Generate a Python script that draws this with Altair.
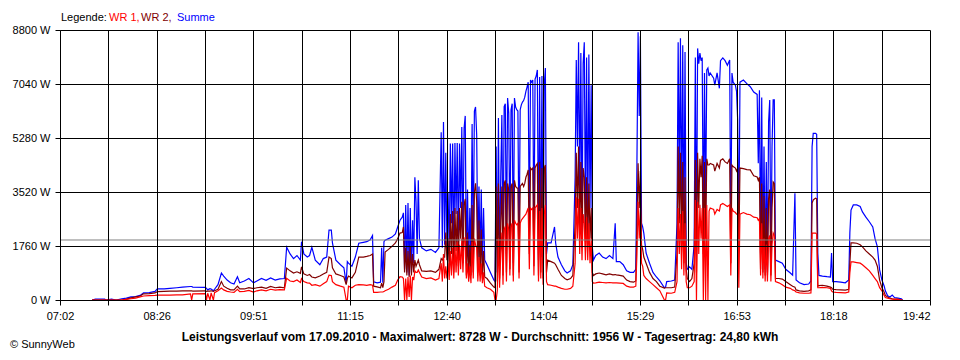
import altair as alt
import pandas as pd

# ---------------- data ----------------
times = [
    "07:30", "07:33", "07:41", "07:42", "07:47", "07:51", "07:56", "08:00", "08:04", "08:08",
    "08:12", "08:15", "08:20", "08:25", "08:27", "08:33", "08:38", "08:44", "08:49", "08:56",
    "08:57", "08:58", "09:09", "09:10", "09:11", "09:13", "09:14", "09:16", "09:17", "09:20",
    "09:23", "09:25", "09:28", "09:31", "09:34", "09:37", "09:39", "09:43", "09:47", "09:51",
    "09:54", "09:58", "10:02", "10:06", "10:10", "10:14", "10:18", "10:20", "10:23", "10:26",
    "10:29", "10:32", "10:33", "10:35", "10:38", "10:40", "10:42", "10:45", "10:49", "10:52",
    "10:55", "10:57", "10:59", "11:00", "11:03", "11:07", "11:10", "11:12", "11:13", "11:14",
    "11:17", "11:20", "11:23", "11:27", "11:30", "11:33", "11:35", "11:36", "11:39", "11:42",
    "11:43", "11:44", "11:45", "11:46", "11:49", "11:52", "11:55", "11:57", "11:59", "12:01",
    "12:02", "12:03", "12:04", "12:05", "12:06", "12:07", "12:08", "12:09", "12:10", "12:11",
    "12:12", "12:13", "12:14", "12:15", "12:16", "12:18", "12:22", "12:26", "12:30", "12:33",
    "12:35", "12:36", "12:37", "12:38", "12:39", "12:40", "12:41", "12:42", "12:43", "12:44",
    "12:45", "12:46", "12:47", "12:48", "12:49", "12:50", "12:51", "12:52", "12:53", "12:54",
    "12:55", "12:56", "12:57", "12:58", "12:59", "13:00", "13:01", "13:02", "13:03", "13:04",
    "13:05", "13:06", "13:07", "13:08", "13:09", "13:10", "13:11", "13:12", "13:13", "13:15",
    "13:18", "13:21", "13:22", "13:23", "13:24", "13:25", "13:26", "13:27", "13:28", "13:29",
    "13:30", "13:31", "13:32", "13:33", "13:34", "13:35", "13:36", "13:37", "13:38", "13:39",
    "13:40", "13:41", "13:42", "13:43", "13:44", "13:45", "13:46", "13:47", "13:48", "13:49",
    "13:50", "13:51", "13:52", "13:53", "13:54", "13:55", "13:56", "13:57", "13:58", "13:59",
    "14:00", "14:01", "14:02", "14:03", "14:04", "14:05", "14:06", "14:07", "14:08", "14:11",
    "14:14", "14:15", "14:17", "14:20", "14:23", "14:25", "14:28", "14:30", "14:32", "14:33",
    "14:34", "14:35", "14:36", "14:37", "14:38", "14:39", "14:40", "14:41", "14:42", "14:43",
    "14:44", "14:45", "14:46", "14:47", "14:48", "14:50", "14:53", "14:56", "14:59", "15:02",
    "15:05", "15:07", "15:08", "15:11", "15:14", "15:17", "15:20", "15:23", "15:25", "15:26",
    "15:27", "15:28", "15:29", "15:30", "15:31", "15:32", "15:34", "15:37", "15:40", "15:43",
    "15:46", "15:50", "15:51", "15:52", "15:56", "15:59", "16:01", "16:02", "16:03", "16:04",
    "16:05", "16:06", "16:07", "16:08", "16:09", "16:10", "16:12", "16:14", "16:16", "16:17",
    "16:18", "16:19", "16:20", "16:21", "16:22", "16:23", "16:24", "16:25", "16:26", "16:27",
    "16:28", "16:29", "16:30", "16:33", "16:34", "16:36", "16:38", "16:39", "16:41", "16:43",
    "16:45", "16:47", "16:48", "16:49", "16:50", "16:52", "16:53", "16:54", "16:55", "16:56",
    "16:59", "17:02", "17:05", "17:08", "17:11", "17:12", "17:13", "17:14", "17:15", "17:16",
    "17:17", "17:18", "17:19", "17:20", "17:21", "17:22", "17:23", "17:24", "17:25", "17:26",
    "17:27", "17:30", "17:33", "17:36", "17:40", "17:42", "17:44", "17:45", "17:48", "17:52",
    "17:56", "17:58", "17:59", "18:00", "18:02", "18:03", "18:04", "18:05", "18:08", "18:12",
    "18:15", "18:16", "18:17", "18:20", "18:24", "18:28", "18:31", "18:32", "18:33", "18:35",
    "18:38", "18:41", "18:43", "18:46", "18:49", "18:52", "18:54", "18:56", "18:58", "19:00",
    "19:02", "19:03", "19:05", "19:07", "19:09", "19:11", "19:14", "19:17", "19:18",
]

wr1 = [
    0, 0, 0, 0, 0, 0, 0, 20, 40, 60,
    100, 130, 140, 150, 160, 160, 160, 170, 170, 200,
    0, 200, 210, 0, 220, 0, 230, 0, 240, 300,
    390, 330, 280, 260, 250, 350, 270, 280, 310, 260,
    300, 330, 300, 350, 320, 340, 330, 710, 620, 600,
    650, 570, 700, 600, 560, 550, 480, 500, 450, 530,
    600, 810, 800, 600, 500, 450, 420, 0, 0, 450,
    400, 480, 500, 490, 480, 500, 480, 250, 250, 260,
    260, 260, 280, 300, 350, 420, 480, 650, 760, 750,
    700, 0, 700, 0, 750, 100, 800, 0, 750, 650,
    950, 900, 900, 980, 900, 750, 700, 720, 650, 700,
    1200, 600, 1500, 700, 1100, 700, 1200, 650, 1600, 800,
    1700, 700, 1800, 900, 1900, 800, 1800, 1000, 2000, 900,
    1900, 2050, 700, 1200, 600, 1100, 550, 1900, 700, 2000,
    1800, 1700, 600, 1400, 600, 1200, 550, 900, 450, 400,
    350, 250, 0, 0, 300, 2000, 400, 1500, 2200, 500,
    2300, 2400, 600, 2500, 2300, 800, 2400, 2500, 600, 2600,
    2500, 2450, 2500, 700, 2500, 2600, 2650, 2700, 2750, 2800,
    2900, 3000, 1000, 3000, 2950, 3000, 800, 3000, 3050, 3100,
    600, 2900, 700, 3000, 500, 2800, 3100, 600, 500, 480,
    450, 450, 420, 380, 350, 350, 380, 450, 1200, 3350,
    2000, 3300, 1500, 3000, 1300, 2800, 2500, 1300, 2700, 1300,
    2500, 1200, 2000, 600, 550, 560, 580, 570, 560, 570,
    560, 560, 560, 550, 540, 450, 420, 420, 450, 1500,
    3200, 2000, 3000, 1200, 1100, 800, 700, 600, 500, 400,
    300, 0, 0, 230, 220, 250, 600, 3000, 1500, 2800,
    1000, 2900, 800, 2500, 600, 400, 400, 450, 600, 3260,
    0, 3200, 1500, 3100, 2000, 3000, 0, 3000, 0, 3100,
    0, 2900, 3000, 2950, 2800, 2950, 2900, 3100, 3150, 3100,
    3050, 3100, 800, 3000, 2900, 2850, 2800, 2800, 400, 2800,
    2850, 2800, 2780, 2700, 2680, 2600, 2650, 800, 2500, 700,
    2000, 600, 1800, 600, 2000, 2100, 600, 1800, 2180, 2100,
    600, 560, 500, 420, 380, 330, 300, 260, 230, 220,
    220, 230, 2180, 2180, 2180, 2150, 400, 400, 410, 400,
    380, 300, 260, 250, 240, 230, 260, 900, 1240, 1240,
    1220, 1200, 1150, 1050, 950, 800, 700, 600, 400, 300,
    150, 80, 60, 40, 30, 20, 20, 0, 0,
]

wr2 = [
    0, 0, 0, 0, 0, 0, 0, 30, 70, 100,
    130, 200, 210, 230, 270, 280, 290, 290, 300, 300,
    300, 290, 300, 280, 290, 290, 300, 280, 300, 350,
    600, 450, 380, 330, 330, 450, 360, 360, 400, 370,
    400, 420, 380, 440, 400, 420, 400, 1040, 950, 880,
    920, 870, 1080, 850, 800, 830, 750, 720, 780, 850,
    900, 1400, 1350, 1050, 850, 800, 750, 500, 700, 780,
    720, 900, 1400, 1400, 1420, 1450, 1500, 450, 430, 400,
    550, 400, 600, 1560, 1650, 1750, 1860, 2000, 2180, 2200,
    2380, 900, 1700, 800, 1600, 750, 1730, 800, 1500, 900,
    1300, 1100, 1200, 1300, 1150, 950, 930, 950, 900, 1000,
    1350, 1300, 1400, 1400, 2200, 1300, 2000, 1000, 2800, 1500,
    2900, 900, 3000, 1600, 2900, 1100, 3000, 2000, 3200, 1200,
    3100, 3300, 800, 2200, 700, 1800, 800, 3100, 900, 3500,
    3800, 3200, 900, 2600, 800, 2300, 700, 1600, 750, 700,
    550, 420, 400, 3700, 600, 3800, 700, 2500, 3700, 800,
    3800, 3900, 900, 3800, 3600, 1000, 3700, 3800, 800, 3900,
    3700, 3650, 3650, 900, 3700, 3750, 3800, 3700, 3800, 4000,
    4100, 4240, 1500, 4300, 4250, 4300, 1100, 4300, 4400, 4450,
    800, 4500, 900, 4300, 700, 4300, 4400, 900, 1300, 1250,
    1200, 1150, 1000, 800, 700, 660, 700, 800, 2500, 4800,
    3000, 5000, 2200, 4500, 1900, 4300, 4000, 1900, 4000, 1800,
    3800, 2000, 3000, 900, 800, 850, 880, 850, 820, 850,
    820, 830, 820, 800, 780, 650, 600, 580, 620, 2500,
    4460, 3000, 4200, 1800, 1650, 1400, 1200, 900, 700, 600,
    450, 390, 400, 400, 400, 420, 1500, 5000, 2500, 4800,
    1800, 4500, 1200, 4000, 1000, 700, 600, 700, 1200, 4560,
    900, 4800, 3000, 4600, 4000, 4700, 1500, 4500, 2000, 4600,
    4400, 4400, 4450, 4400, 4200, 4450, 4300, 4550, 4600, 4500,
    4450, 4600, 1200, 4400, 4350, 4300, 4200, 4300, 1700, 4300,
    4280, 4250, 4240, 4050, 4010, 3900, 4000, 1000, 3800, 900,
    3400, 800, 3000, 800, 3300, 3600, 800, 3000, 3850, 3800,
    700, 700, 680, 600, 500, 450, 420, 330, 300, 280,
    300, 330, 3160, 3260, 3320, 3300, 450, 470, 480, 450,
    420, 400, 350, 340, 330, 320, 350, 1200, 1860, 1860,
    1850, 1800, 1730, 1600, 1500, 1400, 1300, 1100, 650, 400,
    250, 150, 100, 60, 40, 30, 30, 0, 0,
]

summe = [
    0, 30, 30, 0, 30, 0, 40, 60, 100, 110,
    150, 230, 240, 280, 360, 360, 380, 400, 420, 440,
    440, 420, 410, 380, 330, 370, 360, 300, 350, 500,
    880, 780, 650, 560, 520, 760, 560, 620, 700, 560,
    620, 700, 640, 720, 650, 690, 700, 1720, 1500, 1350,
    1450, 1300, 1900, 1500, 1400, 1450, 1720, 1300, 1150, 1350,
    1400, 2280, 2280, 1860, 1300, 1150, 1050, 550, 1250, 1200,
    1100, 1400, 1850, 1880, 1900, 1960, 2100, 590, 560, 580,
    1700, 560, 1900, 1950, 2000, 2050, 2150, 2380, 2600, 2700,
    2840, 1000, 3100, 900, 3160, 800, 3000, 900, 2600, 1200,
    4000, 3200, 1500, 3900, 2000, 1700, 1600, 1650, 1550, 1700,
    5470, 1700, 5800, 1800, 4800, 1800, 3500, 1500, 5100, 2500,
    5100, 1400, 5120, 2800, 5120, 1700, 5100, 3000, 5640, 1600,
    5600, 6000, 1200, 3600, 1000, 3000, 1300, 5740, 1500, 6160,
    6290, 5380, 1400, 3700, 1300, 3600, 1200, 3000, 1300, 1150,
    900, 650, 600, 5000, 900, 5930, 1100, 4000, 6030, 1200,
    6300, 6400, 1500, 6580, 6100, 1800, 6200, 6400, 1200, 6580,
    6290, 6200, 6160, 1500, 6200, 6360, 6450, 6500, 6610, 6800,
    6940, 7100, 2200, 7170, 7100, 7170, 1800, 7200, 7300, 7500,
    1300, 7270, 1400, 7300, 1200, 7000, 7560, 1500, 1860, 1860,
    2380, 1850, 1400, 1150, 950, 880, 950, 1150, 4000, 7820,
    5000, 8400, 3500, 8050, 1700, 7700, 8400, 2400, 7900, 2000,
    8000, 3000, 7000, 1730, 1300, 1450, 1530, 1400, 1350, 1450,
    1350, 2500, 1250, 1250, 1150, 950, 900, 900, 1000, 4500,
    8730, 6000, 8600, 2500, 2380, 2180, 1530, 1200, 900, 750,
    620, 400, 420, 600, 620, 650, 2500, 8400, 3500, 8530,
    2500, 8300, 1500, 8080, 1200, 1000, 1080, 1000, 1800, 7900,
    1500, 8200, 7700, 8050, 7800, 7900, 2000, 7400, 3000, 7500,
    7560, 7300, 7400, 7230, 7000, 7400, 6900, 7800, 7890, 7800,
    7650, 7820, 1900, 7400, 7100, 7000, 6800, 5870, 2000, 7100,
    7170, 7050, 6950, 6780, 6700, 4460, 6840, 1500, 6600, 1200,
    5000, 1000, 4500, 900, 5800, 6520, 1100, 5000, 6520, 6520,
    1300, 1250, 1200, 1000, 880, 810, 3480, 650, 560, 500,
    520, 620, 5000, 5430, 5430, 5400, 1530, 800, 780, 760,
    750, 1530, 600, 600, 580, 560, 650, 2200, 2930, 3100,
    3100, 3050, 2870, 2700, 2550, 2380, 2000, 1740, 980, 650,
    450, 300, 140, 100, 160, 80, 60, 40, 0,
]

x_tick_labels = ["07:02", "08:26", "09:51", "11:15", "12:40",
                 "14:04", "15:29", "16:53", "18:18", "19:42"]
y_ticks = [0, 1760, 3520, 5280, 7040, 8800]
average_w = 1956

legend_labels = ["Legende:", "WR 1,", "WR 2,", "Summe"]
legend_colors = ["#000000", "#ff0000", "#800000", "#0000ff"]
title_text = ("Leistungsverlauf vom 17.09.2010 - Maximalwert: 8728 W - "
              "Durchschnitt: 1956 W - Tagesertrag: 24,80 kWh")
copyright_text = "\u00a9 SunnyWeb"

# ---------------- build ----------------
n = len(times)
if not (len(wr1) == n and len(wr2) == n and len(summe) == n):
    raise SystemExit(f"length mismatch: {n} {len(wr1)} {len(wr2)} {len(summe)}")


def to_min(s):
    h, m = s.split(":")
    return int(h) * 60 + int(m)


df = pd.DataFrame({
    "t": [to_min(s) for s in times],
    "wr1": wr1,
    "wr2": wr2,
    "summe": summe,
})

W, H = 870, 270
FONT = "Liberation Sans"

t0 = to_min(x_tick_labels[0])
t1 = to_min(x_tick_labels[-1])
n_minor = 2 * (len(x_tick_labels) - 1)
x_values = [t0 + (t1 - t0) * k / n_minor for k in range(n_minor + 1)]
slot_labels = []
for lab in x_tick_labels:
    slot_labels += [lab, ""]
slot_labels = slot_labels[:-1]
labels_js = "[" + ",".join("'" + s + "'" for s in slot_labels) + "]"
x_label_expr = f"{labels_js}[round((datum.value-{t0})*{n_minor}/{t1 - t0})]"

x_scale = alt.Scale(domain=[t0, t1], nice=False, zero=False)
y_scale = alt.Scale(domain=[y_ticks[0], y_ticks[-1]], nice=False)

common_axis = dict(
    grid=True, gridColor="#000000", gridOpacity=1, gridWidth=1,
    domainColor="#000000", domainWidth=1, tickColor="#000000", tickWidth=1,
    tickSize=5, labelFont=FONT, labelFontSize=11, labelColor="#000000",
    labelPadding=5, title=None, zindex=1, labelOverlap=False,
)
x_axis = alt.Axis(values=x_values, labelExpr=x_label_expr,
                  labelAlign={"expr": f"datum.value > {t1 - 1} ? 'right' : 'center'"},
                  **common_axis)
y_axis = alt.Axis(values=y_ticks, labelExpr="datum.value + ' W'", **common_axis)


def series(field, color):
    return alt.Chart(df).mark_line(color=color, strokeWidth=1.2, clip=True).encode(
        x=alt.X("t:Q", scale=x_scale, axis=x_axis),
        y=alt.Y(f"{field}:Q", scale=y_scale, axis=y_axis),
    )


one = pd.DataFrame({"a": [0]})

avg_rule = alt.Chart(pd.DataFrame({"avg": [average_w]})).mark_rule(
    color="#808080", strokeWidth=1
).encode(y=alt.Y("avg:Q", scale=y_scale, axis=y_axis))

legend_x = [1, 49, 81, 117]
legend_layers = [
    alt.Chart(one).mark_text(text=lab, color=col, font=FONT, fontSize=11,
                             align="left", baseline="alphabetic",
                             x=lx, y=-9.5)
    for lab, col, lx in zip(legend_labels, legend_colors, legend_x)
]

title_layer = alt.Chart(one).mark_text(
    text=title_text, font=FONT, fontSize=12, fontWeight="bold", color="#000000",
    align="center", baseline="alphabetic", x=420, y=311,
)
copy_layer = alt.Chart(one).mark_text(
    text=copyright_text, font=FONT, fontSize=11, color="#000000",
    align="left", baseline="alphabetic", x=-50, y=318,
)

chart = alt.layer(
    series("summe", "#0000ff"),
    series("wr2", "#800000"),
    series("wr1", "#ff0000"),
    avg_rule,
    *legend_layers,
    title_layer,
    copy_layer,
).properties(
    width=W, height=H,
    padding={"left": 52, "top": 22, "right": 22, "bottom": 52},
    autosize=alt.AutoSizeParams(type="none"),
    background="#ffffff",
).configure_view(strokeWidth=0)

chart.save("out.html", embed_options={"renderer": "svg", "actions": False})
